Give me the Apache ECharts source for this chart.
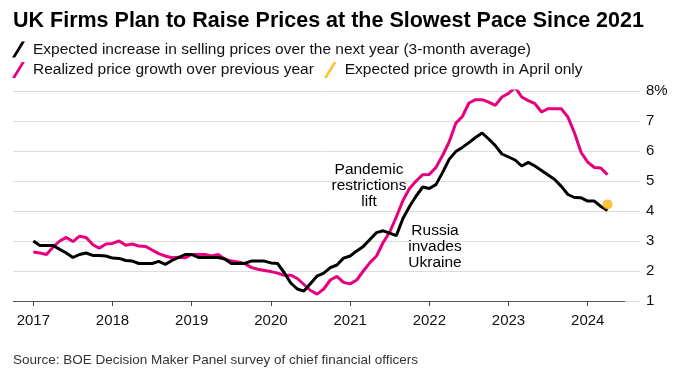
<!DOCTYPE html>
<html>
<head>
<meta charset="utf-8">
<script src="https://cdn.jsdelivr.net/npm/echarts@6/dist/echarts.min.js"></script>
<style>
html,body{margin:0;padding:0;background:#fff;}
#chart{width:680px;height:382px;}
</style>
</head>
<body>
<div id="chart"></div>
<script>
// ---- data (monthly, Jan 2017 .. Apr 2024) ----
const startYear = 2017;
const yearTicks = [2017, 2018, 2019, 2020, 2021, 2022, 2023, 2024];
const expected = [
  3.0, 2.85, 2.85, 2.85, 2.72, 2.6, 2.45, 2.55, 2.6, 2.52, 2.52, 2.5,
  2.43, 2.42, 2.35, 2.33, 2.25, 2.25, 2.25, 2.32, 2.22, 2.35, 2.45, 2.55,
  2.55, 2.45, 2.45, 2.45, 2.45, 2.4, 2.25, 2.25, 2.25, 2.33, 2.33, 2.33,
  2.27, 2.25, 1.95, 1.6, 1.4, 1.33, 1.58, 1.83, 1.93, 2.11, 2.2, 2.43,
  2.5, 2.67, 2.82, 3.05, 3.28, 3.34, 3.26, 3.18, 3.75, 4.15, 4.5, 4.8,
  4.75, 4.88, 5.28, 5.72, 5.98, 6.12, 6.28, 6.45, 6.6, 6.4, 6.18, 5.9,
  5.8, 5.7, 5.5, 5.62, 5.5, 5.35, 5.2, 5.05, 4.82, 4.55, 4.45, 4.44,
  4.33, 4.33, 4.15, 4.02
];
const realized = [
  2.63, 2.6, 2.55, 2.8, 3.0, 3.12, 2.98, 3.16, 3.12, 2.88, 2.76, 2.9,
  2.92, 3.0, 2.86, 2.9, 2.83, 2.82, 2.7, 2.58, 2.5, 2.44, 2.46, 2.44,
  2.55, 2.55, 2.55, 2.5, 2.55, 2.4, 2.33, 2.3, 2.25, 2.12, 2.06, 2.02,
  1.98, 1.93, 1.86, 1.86, 1.75, 1.55, 1.35, 1.23, 1.4, 1.7, 1.82, 1.62,
  1.57, 1.7, 2.0, 2.28, 2.5, 2.95, 3.3, 3.8, 4.35, 4.75, 5.0, 5.21,
  5.22, 5.45, 5.85, 6.3, 6.92, 7.15, 7.6, 7.71, 7.71, 7.63, 7.52, 7.8,
  7.92, 8.12, 7.8, 7.68, 7.58, 7.3, 7.41, 7.41, 7.41, 7.13, 6.6, 5.95,
  5.63, 5.45, 5.43, 5.21
];
const aprilOnlyMonth = 87;   // Apr 2024 (months since Jan 2017)
const aprilOnlyValue = 4.22;

const names = {
  expected: 'Expected increase in selling prices over the next year (3-month average)',
  realized: 'Realized price growth over previous year',
  april: 'Expected price growth in April only'
};

// ---- axis extents (months since Jan 2017) ----
const X_MIN = -3.08, X_MAX = 91.92, AXIS_END = 89.65;

const toPairs = arr => arr.map((v, i) => [i, v]);
const tickMonths = yearTicks.map(y => (y - startYear) * 12);

const FONT = '"Liberation Sans", Arial, Helvetica, sans-serif';
const slash = 'path://M0,13 L7.9,0 L10.5,0 L2.6,13 Z';

const legendBase = {
  left: 12, padding: 0, itemWidth: 13, itemHeight: 16, itemGap: 10,
  selectedMode: false,
  textStyle: {fontFamily: FONT, fontSize: 15.5, color: '#111', padding: [0, 0, 0, 3]}
};

const chart = echarts.init(document.getElementById('chart'), null, {renderer: 'canvas'});
chart.setOption({
  animation: false,
  backgroundColor: '#fff',
  textStyle: {fontFamily: FONT},
  title: {
    text: 'UK Firms Plan to Raise Prices at the Slowest Pace Since 2021',
    left: 13, top: 10, padding: 0,
    textStyle: {fontFamily: FONT, fontSize: 21.5, fontWeight: 'bold', color: '#000'}
  },
  legend: [
    Object.assign({}, legendBase, {top: 41.5, data: [{name: names.expected, icon: slash}]}),
    Object.assign({}, legendBase, {top: 62, data: [
      {name: names.realized, icon: slash}, {name: names.april, icon: slash}
    ]})
  ],
  grid: {left: 13, right: 40, top: 91, bottom: 81, containLabel: false},
  xAxis: {
    type: 'value', min: X_MIN, max: X_MAX,
    axisLine: {show: false},
    splitLine: {show: false},
    axisTick: {show: true, customValues: tickMonths, length: 5, lineStyle: {color: '#444', width: 1}},
    axisLabel: {
      customValues: tickMonths, margin: 12,
      fontFamily: FONT, fontSize: 15, color: '#111',
      formatter: v => String(startYear + Math.round(v / 12))
    }
  },
  yAxis: {
    type: 'value', position: 'right', min: 1, max: 8, interval: 1,
    axisLine: {show: false}, axisTick: {show: false},
    splitLine: {show: true, lineStyle: {color: '#dcdcdc', width: 1}},
    axisLabel: {
      margin: 6, fontFamily: FONT, fontSize: 15, color: '#111',
      formatter: v => (v === 8 ? '8%' : String(v))
    }
  },
  graphic: [
    {
      type: 'text', x: 369, y: 185.5, z: 100,
      style: {text: 'Pandemic\nrestrictions\nlift', fill: '#000', font: '15.5px ' + FONT,
        align: 'center', verticalAlign: 'middle', lineHeight: 16}
    },
    {
      type: 'text', x: 435, y: 247, z: 100,
      style: {text: 'Russia\ninvades\nUkraine', fill: '#000', font: '15.5px ' + FONT,
        align: 'center', verticalAlign: 'middle', lineHeight: 16}
    },
    {
      type: 'text', left: 13, top: 353,
      style: {text: 'Source: BOE Decision Maker Panel survey of chief financial officers',
        fill: '#333', font: '13.5px ' + FONT}
    }
  ],
  series: [
    {
      name: names.realized, type: 'line', data: toPairs(realized),
      showSymbol: false, symbol: 'none', z: 3,
      lineStyle: {color: '#e6007e', width: 3},
      itemStyle: {color: '#e6007e'}
    },
    {
      name: names.expected, type: 'line', data: toPairs(expected),
      showSymbol: false, symbol: 'none', z: 4,
      lineStyle: {color: '#000', width: 3},
      itemStyle: {color: '#000'},
      markLine: {
        silent: true, symbol: 'none', label: {show: false},
        lineStyle: {color: '#555', width: 1.2, type: 'solid'},
        data: [[{coord: [X_MIN, 1]}, {coord: [AXIS_END, 1]}]]
      }
    },
    {
      name: names.april, type: 'scatter', data: [[aprilOnlyMonth, aprilOnlyValue]],
      symbol: 'circle', symbolSize: 10, z: 5,
      itemStyle: {color: '#f6b60f'}
    }
  ]
});
</script>
</body>
</html>
